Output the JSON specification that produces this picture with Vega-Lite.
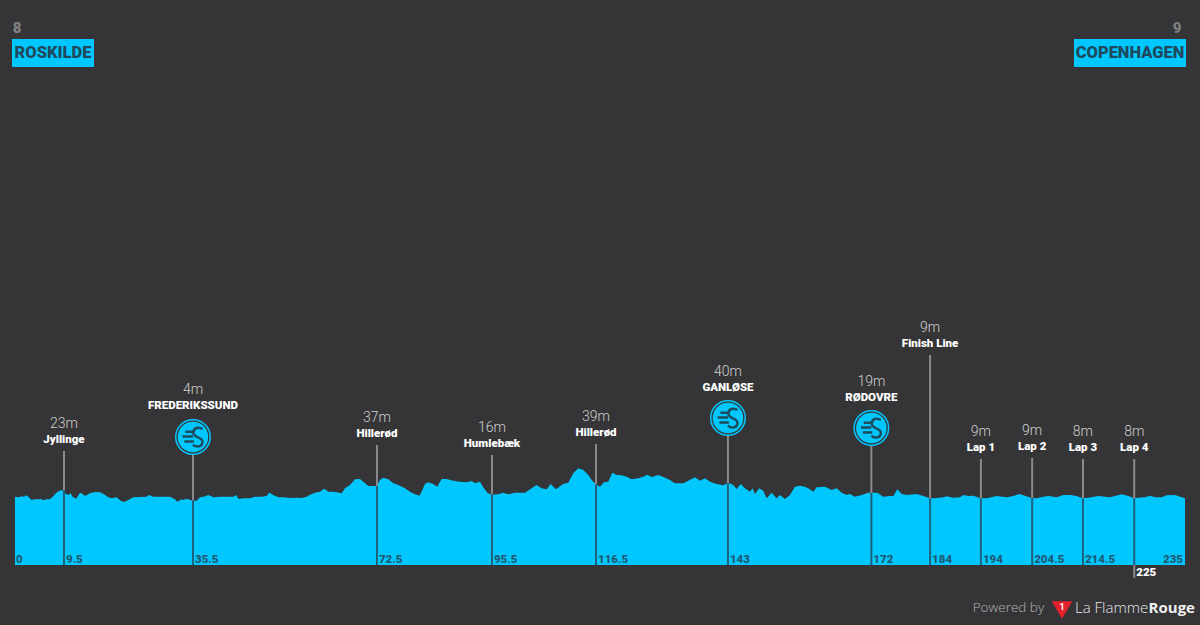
{"$schema":"https://vega.github.io/schema/vega-lite/v6.json","width":1200,"height":625,"autosize":{"type":"fit","contains":"padding"},"padding":0,"background":"#353537","config":{"view":{"stroke":null}},
"datasets":{
"profile":[{"km":0,"m":6.7},{"km":0.67,"m":5.3},{"km":1.34,"m":7.3},{"km":1.81,"m":6.7},{"km":2.21,"m":9.3},{"km":2.68,"m":6.7},{"km":3.35,"m":0},{"km":4.02,"m":1.3},{"km":4.89,"m":1.3},{"km":5.16,"m":2.7},{"km":5.69,"m":-0.7},{"km":6.36,"m":1.3},{"km":7.03,"m":1.3},{"km":7.57,"m":6.7},{"km":8.23,"m":13.3},{"km":8.9,"m":18.7},{"km":9.71,"m":19.3},{"km":10.04,"m":13.3},{"km":10.71,"m":10},{"km":11.18,"m":13.3},{"km":11.58,"m":6.7},{"km":12.25,"m":2.7},{"km":13.06,"m":14.7},{"km":13.59,"m":12},{"km":14.06,"m":8},{"km":15.06,"m":13.3},{"km":16.07,"m":16},{"km":17.07,"m":15.3},{"km":17.88,"m":11.3},{"km":18.75,"m":5.3},{"km":19.42,"m":3.3},{"km":20.42,"m":5.3},{"km":21.22,"m":-1.3},{"km":21.89,"m":-4},{"km":22.76,"m":0},{"km":23.77,"m":5.3},{"km":25.11,"m":6},{"km":26.45,"m":6.7},{"km":26.91,"m":10},{"km":27.78,"m":6.7},{"km":29.79,"m":6.7},{"km":31.13,"m":6.7},{"km":32.14,"m":1.3},{"km":32.6,"m":-3.3},{"km":33.48,"m":1.3},{"km":33.81,"m":0},{"km":34.48,"m":2.7},{"km":35.68,"m":-1.3},{"km":36.49,"m":-1.3},{"km":37.16,"m":5.3},{"km":37.96,"m":6.7},{"km":38.83,"m":10},{"km":39.84,"m":5.3},{"km":41.17,"m":6.7},{"km":42.51,"m":6.7},{"km":43.85,"m":6.7},{"km":44.39,"m":10},{"km":44.92,"m":2},{"km":45.86,"m":3.3},{"km":47.2,"m":3.3},{"km":48.2,"m":6.7},{"km":49.54,"m":6.7},{"km":50.55,"m":8},{"km":51.08,"m":14.7},{"km":51.89,"m":10},{"km":52.89,"m":5.3},{"km":53.89,"m":5.3},{"km":55.23,"m":4},{"km":56.57,"m":4.7},{"km":57.58,"m":4},{"km":58.58,"m":6.7},{"km":59.25,"m":10.7},{"km":60.26,"m":14.7},{"km":61.26,"m":16.7},{"km":62.13,"m":22.7},{"km":62.93,"m":16.7},{"km":63.94,"m":16.7},{"km":64.61,"m":15.3},{"km":65.61,"m":13.3},{"km":66.28,"m":23.3},{"km":67.28,"m":30},{"km":68.29,"m":41.3},{"km":69.29,"m":42},{"km":69.96,"m":36.7},{"km":70.97,"m":28},{"km":72.64,"m":28},{"km":73.31,"m":40},{"km":73.98,"m":44.7},{"km":74.98,"m":41.3},{"km":75.99,"m":33.3},{"km":76.99,"m":30},{"km":78.32,"m":23.3},{"km":79.33,"m":16.7},{"km":80.33,"m":11.3},{"km":81.2,"m":8.7},{"km":81.67,"m":16.7},{"km":82.34,"m":32},{"km":83,"m":35.3},{"km":84,"m":32},{"km":84.8,"m":26.7},{"km":85.69,"m":42},{"km":86.69,"m":42},{"km":88.03,"m":38.7},{"km":89.37,"m":36.7},{"km":90.71,"m":35.3},{"km":91.71,"m":38},{"km":92.38,"m":33.3},{"km":93.39,"m":36.7},{"km":94.06,"m":25.3},{"km":94.86,"m":14.7},{"km":95.73,"m":10.7},{"km":97.07,"m":11.3},{"km":98.07,"m":14.7},{"km":99.08,"m":11.3},{"km":100.42,"m":14.7},{"km":102.43,"m":14.7},{"km":103.77,"m":23.3},{"km":104.77,"m":30},{"km":105.77,"m":23.3},{"km":106.78,"m":21.3},{"km":107.58,"m":32},{"km":108.65,"m":21.3},{"km":110.13,"m":32},{"km":111.13,"m":34.7},{"km":112.13,"m":53.3},{"km":113.14,"m":63.3},{"km":114.14,"m":60},{"km":115.15,"m":50},{"km":115.82,"m":40},{"km":116.62,"m":31.3},{"km":117.49,"m":26.7},{"km":118.29,"m":35.3},{"km":119.16,"m":36.7},{"km":119.97,"m":54.7},{"km":120.84,"m":50},{"km":121.84,"m":49.3},{"km":122.85,"m":46.7},{"km":123.85,"m":41.3},{"km":125.19,"m":43.3},{"km":126.19,"m":46.7},{"km":127,"m":50.7},{"km":127.87,"m":46},{"km":129.21,"m":50},{"km":130.55,"m":44.7},{"km":131.55,"m":40},{"km":132.55,"m":33.3},{"km":134.23,"m":33.3},{"km":135.23,"m":38.7},{"km":136.57,"m":45.3},{"km":137.58,"m":38.7},{"km":138.58,"m":43.3},{"km":139.58,"m":36.7},{"km":140.92,"m":32},{"km":142.26,"m":29.3},{"km":143.27,"m":34.7},{"km":144.27,"m":30},{"km":144.94,"m":22},{"km":145.74,"m":32},{"km":146.61,"m":23.3},{"km":147.62,"m":16.7},{"km":148.15,"m":23.3},{"km":148.62,"m":12},{"km":149.49,"m":23.3},{"km":150.3,"m":18.7},{"km":150.97,"m":3.3},{"km":151.97,"m":14.7},{"km":152.97,"m":3.3},{"km":153.64,"m":10},{"km":154.65,"m":2},{"km":155.65,"m":10},{"km":156.66,"m":26.7},{"km":157.67,"m":28.7},{"km":158.67,"m":26.7},{"km":159.54,"m":22},{"km":160.35,"m":16.7},{"km":161.02,"m":25.3},{"km":162.69,"m":26.7},{"km":164.03,"m":20},{"km":165.03,"m":23.3},{"km":166.04,"m":14.7},{"km":167.04,"m":10},{"km":167.71,"m":12},{"km":168.72,"m":6.7},{"km":170.06,"m":10},{"km":171.39,"m":14.7},{"km":173.2,"m":14.7},{"km":174.41,"m":6.7},{"km":175.75,"m":8},{"km":176.42,"m":8},{"km":177.22,"m":21.3},{"km":178.09,"m":12},{"km":179.09,"m":10},{"km":181.1,"m":12},{"km":182.44,"m":8},{"km":183.78,"m":3.3},{"km":184.78,"m":3.3},{"km":186.46,"m":5.3},{"km":187.13,"m":7.3},{"km":188.47,"m":4.7},{"km":189.8,"m":5.3},{"km":190.48,"m":10},{"km":191.48,"m":8},{"km":192.48,"m":8.7},{"km":193.96,"m":3.3},{"km":195.16,"m":3.3},{"km":197.17,"m":8},{"km":199.18,"m":5.3},{"km":200.52,"m":8},{"km":201.72,"m":12},{"km":202.86,"m":8.7},{"km":204.2,"m":4},{"km":205.2,"m":3.3},{"km":206.54,"m":6.7},{"km":207.55,"m":8},{"km":209.22,"m":5.3},{"km":210.56,"m":10},{"km":211.9,"m":10},{"km":213.24,"m":8},{"km":214.44,"m":3.3},{"km":215.58,"m":4.7},{"km":217.59,"m":8},{"km":219.93,"m":5.3},{"km":222.28,"m":11.3},{"km":223.62,"m":8},{"km":224.75,"m":3.3},{"km":225.62,"m":4.7},{"km":226.96,"m":5.3},{"km":227.97,"m":8.7},{"km":228.97,"m":5.3},{"km":230.31,"m":5.3},{"km":231.32,"m":9.3},{"km":232.99,"m":10},{"km":234,"m":6.7},{"km":235,"m":3.3}],
"stops":[
{"km":9.84,"kmLabel":"9.5","place":"Jyllinge","alt":"23m","top":98,"surface":19,"labelAt":122,"low":-118,"base":-130},
{"km":35.75,"kmLabel":"35.5","place":"FREDERIKSSUND","alt":"4m","top":90,"surface":-1,"labelAt":190,"iconAt":126,"low":-118,"base":-130},
{"km":72.7,"kmLabel":"72.5","place":"Hillerød","alt":"37m","top":110,"surface":28,"labelAt":134,"low":-118,"base":-130},
{"km":95.8,"kmLabel":"95.5","place":"Humlebæk","alt":"16m","top":90,"surface":11,"labelAt":114,"low":-118,"base":-130},
{"km":116.7,"kmLabel":"116.5","place":"Hillerød","alt":"39m","top":112,"surface":31,"labelAt":136,"low":-118,"base":-130},
{"km":143.2,"kmLabel":"143","place":"GANLØSE","alt":"40m","top":128,"surface":34,"labelAt":226,"iconAt":164,"low":-118,"base":-130},
{"km":172,"kmLabel":"172","place":"RØDOVRE","alt":"19m","top":108,"surface":14,"labelAt":206,"iconAt":144,"low":-118,"base":-130},
{"km":183.8,"kmLabel":"184","place":"Finish Line","alt":"9m","top":290,"surface":3,"labelAt":314,"low":-118,"base":-130},
{"km":194,"kmLabel":"194","place":"Lap 1","alt":"9m","top":82,"surface":3,"labelAt":106,"low":-118,"base":-130},
{"km":204.3,"kmLabel":"204.5","place":"Lap 2","alt":"9m","top":84,"surface":4,"labelAt":108,"low":-118,"base":-130},
{"km":214.5,"kmLabel":"214.5","place":"Lap 3","alt":"8m","top":82,"surface":3,"labelAt":106,"low":-118,"base":-130},
{"km":224.8,"kmLabel":"","place":"Lap 4","alt":"8m","top":82,"surface":3,"labelAt":106,"low":-118,"base":-130}],
"ends":[{"num":"8","town":"ROSKILDE","left":-0.6,"right":15.87,"mid":7.63,"numKm":0.4,"boxLow":866,"boxHigh":922,"townAt":894,"numAt":944},{"num":"9","town":"COPENHAGEN","left":212.7,"right":235.2,"mid":223.95,"numKm":233.4,"boxLow":866,"boxHigh":922,"townAt":894,"numAt":944}]
},
"encoding":{"x":{"field":"km","type":"quantitative","scale":{"domain":[-3.01,238.01],"nice":false,"zero":false},"axis":null},"y":{"field":"m","type":"quantitative","scale":{"domain":[-250,1000],"nice":false,"zero":false},"axis":null}},
"layer":[
{"data":{"name":"profile"},"mark":{"type":"area","color":"#00c8ff","interpolate":"linear"},"encoding":{"y2":{"datum":-130}}},
{"data":{"name":"stops"},"mark":{"type":"rule","color":"#8b8b8d","strokeWidth":2},"encoding":{"y":{"field":"top"},"y2":{"field":"surface"}}},
{"data":{"name":"stops"},"mark":{"type":"rule","color":"#1f617d","strokeWidth":2},"encoding":{"y":{"field":"surface"},"y2":{"field":"base"}}},
{"data":{"values":[{"km":224.8,"a":-130,"b":-156}]},"mark":{"type":"rule","color":"#8b8b8d","strokeWidth":2},"encoding":{"y":{"field":"a"},"y2":{"field":"b"}}},
{"data":{"name":"stops"},"mark":{"type":"text","font":"Roboto","fontWeight":300,"fontSize":14,"color":"#d0d0d0","align":"center","baseline":"middle","dy":-15},"encoding":{"y":{"field":"labelAt"},"text":{"field":"alt"}}},
{"data":{"name":"stops"},"mark":{"type":"text","font":"Roboto","fontWeight":900,"fontSize":11.5,"color":"#ffffff","align":"center","baseline":"middle","dy":1},"encoding":{"y":{"field":"labelAt"},"text":{"field":"place"}}},
{"data":{"name":"stops"},"transform":[{"filter":"datum.kmLabel != ''"}],"mark":{"type":"text","font":"Roboto","fontWeight":900,"fontSize":11.5,"color":"#1f5a75","align":"left","baseline":"middle","dx":2,"dy":1},"encoding":{"y":{"field":"low"},"text":{"field":"kmLabel"}}},
{"data":{"values":[{"km":0.2,"t":"0","m":-118}]},"mark":{"type":"text","font":"Roboto","fontWeight":900,"fontSize":11.5,"color":"#1f5a75","align":"left","baseline":"middle","dy":1},"encoding":{"text":{"field":"t"}}},
{"data":{"values":[{"km":234.6,"t":"235","m":-118}]},"mark":{"type":"text","font":"Roboto","fontWeight":900,"fontSize":11.5,"color":"#1f5a75","align":"right","baseline":"middle","dy":1},"encoding":{"text":{"field":"t"}}},
{"data":{"values":[{"km":225.2,"t":"225","m":-144}]},"mark":{"type":"text","font":"Roboto","fontWeight":900,"fontSize":11.5,"color":"#ffffff","align":"left","baseline":"middle","dy":1},"encoding":{"text":{"field":"t"}}},
{"data":{"name":"stops"},"transform":[{"filter":"isValid(datum.iconAt)"}],"mark":{"type":"point","shape":"circle","filled":true,"fill":"#353537","stroke":"#00c8ff","strokeWidth":1.5,"size":1190,"opacity":1},"encoding":{"y":{"field":"iconAt"}}},
{"data":{"name":"stops"},"transform":[{"filter":"isValid(datum.iconAt)"}],"mark":{"type":"point","shape":"circle","filled":true,"fill":"#00c8ff","strokeWidth":0,"size":930,"opacity":1},"encoding":{"y":{"field":"iconAt"}}},
{"data":{"name":"stops"},"transform":[{"filter":"isValid(datum.iconAt)"}],"mark":{"type":"point","filled":false,"fill":"transparent","stroke":"#1f4a5e","strokeWidth":2.5,"size":1444,"opacity":1,"shape":"M-0.4,-0.28L0,-0.28M-0.55,-0.02L0,-0.02M-0.45,0.24L0.05,0.24M0.5,-0.42C0.3,-0.55 0.02,-0.5 0.02,-0.22C0.02,0.05 0.5,-0.02 0.5,0.25C0.5,0.55 0.15,0.55 0,0.4"},"encoding":{"y":{"field":"iconAt"}}},
{"data":{"name":"ends"},"mark":{"type":"rect","color":"#00c8ff"},"encoding":{"x":{"field":"left"},"x2":{"field":"right"},"y":{"field":"boxLow"},"y2":{"field":"boxHigh"}}},
{"data":{"name":"ends"},"mark":{"type":"text","font":"Roboto","fontWeight":900,"fontSize":16.5,"color":"#1f4a5e","align":"center","baseline":"middle"},"encoding":{"x":{"field":"mid"},"y":{"field":"townAt"},"text":{"field":"town"}}},
{"data":{"name":"ends"},"mark":{"type":"text","font":"Roboto","fontWeight":900,"fontSize":15,"color":"#808082","align":"center","baseline":"middle"},"encoding":{"x":{"field":"numKm"},"y":{"field":"numAt"},"text":{"field":"num"}}},
{"data":{"values":[{"km":206.7,"t":"Powered by","m":-216}]},"mark":{"type":"text","font":"Open Sans","fontWeight":300,"fontSize":13.5,"color":"#b5b5b5","align":"right","baseline":"middle"},"encoding":{"text":{"field":"t"}}},
{"data":{"values":[{"km":210.3,"m":-220}]},"mark":{"type":"point","shape":"triangle-down","filled":true,"color":"#e4202c","size":420,"opacity":1}},
{"data":{"values":[{"km":210.3,"t":"1","m":-213}]},"mark":{"type":"text","font":"Roboto","fontWeight":"bold","fontSize":9,"color":"#ffffff","align":"center","baseline":"middle"},"encoding":{"text":{"field":"t"}}},
{"data":{"values":[{"km":212.9,"t":"La Flamme","m":-216}]},"mark":{"type":"text","font":"Open Sans","fontWeight":300,"fontSize":15,"color":"#e8e8e8","align":"left","baseline":"middle"},"encoding":{"text":{"field":"t"}}},
{"data":{"values":[{"km":237,"t":"Rouge","m":-216}]},"mark":{"type":"text","font":"Open Sans","fontWeight":700,"fontSize":15,"color":"#f0f0f0","align":"right","baseline":"middle"},"encoding":{"text":{"field":"t"}}}
]}
